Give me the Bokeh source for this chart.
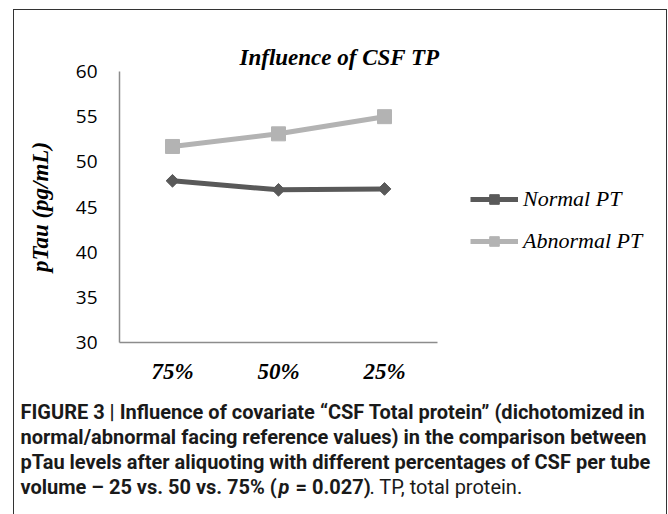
from bokeh.plotting import figure
from bokeh.models import (Range1d, FixedTicker, Label, Legend, LegendItem, ColumnDataSource)
from bokeh.embed import file_html
from bokeh.resources import INLINE
import numpy as np

# ---- data ----
categories = ["75%", "50%", "25%"]
normal_pt = [47.9, 46.9, 47.0]
abnormal_pt = [51.7, 53.1, 55.0]
y_ticks = [30, 35, 40, 45, 50, 55, 60]
title_text = "Influence of CSF TP"
y_label = "pTau (pg/mL)"
series_names = ["Normal PT", "Abnormal PT"]
caption_lines = [
    "FIGURE 3 | Influence of covariate \u201cCSF Total protein\u201d (dichotomized in",
    "normal/abnormal facing reference values) in the comparison between",
    "pTau levels after aliquoting with different percentages of CSF per tube",
]
caption_last = ["volume \u2013 25 vs. 50 vs. 75% (", "p", "= 0.027)", ". TP, total protein."]

SERIF = "Liberation Serif"
CAPFONT = "Roboto"

# category slots: one unit per category, centred at i + 0.5
x_pos = list(np.arange(len(categories)) + 0.5)
n_cat = len(categories)

# layout (pixels, page coordinates of the plot box in the figure)
FIG_L, FIG_T, FIG_W, FIG_H = 14, 10, 652, 504
AX_L, AX_R, AX_T, AX_B = 119, 437, 71, 342
y_lo, y_hi = y_ticks[0], y_ticks[-1]
px_x = (AX_R - AX_L) / n_cat
px_y = (AX_B - AX_T) / (y_hi - y_lo)
x_range = Range1d((FIG_L - AX_L) / px_x, (FIG_L + FIG_W - AX_L) / px_x)
y_range = Range1d(y_lo - (FIG_T + FIG_H - AX_B) / px_y, y_hi + (AX_T - FIG_T) / px_y)

p = figure(width=FIG_W, height=FIG_H, x_range=x_range, y_range=y_range,
           output_backend="svg", toolbar_location=None,
           min_border=0, min_border_left=0, min_border_right=0,
           min_border_top=0, min_border_bottom=0)
p.margin = (FIG_T, 0, 0, FIG_L)
p.styles = {"outline": "1.5px solid #333333"}
p.outline_line_color = None
p.grid.grid_line_color = None

# axes drawn at fixed data locations
p.xaxis.fixed_location = y_lo
p.xaxis.bounds = (0, n_cat)
p.xaxis.ticker = FixedTicker(ticks=x_pos)
p.xaxis.major_label_overrides = {float(xx): c for xx, c in zip(x_pos, categories)}
p.yaxis.fixed_location = 0
p.yaxis.bounds = (y_lo, y_hi)
p.yaxis.ticker = FixedTicker(ticks=y_ticks)
for ax in (p.xaxis[0], p.yaxis[0]):
    ax.axis_line_color = "#8c8c8c"
    ax.axis_line_width = 1.5
    ax.major_tick_line_color = None
    ax.minor_tick_line_color = None
    ax.major_tick_out = 0
    ax.major_tick_in = 0
    ax.minor_tick_out = 0
    ax.major_label_text_color = "black"
p.yaxis.major_label_text_font = "Open Sans"
p.yaxis.major_label_text_font_size = "19px"
p.yaxis.major_label_standoff = 22
p.yaxis.axis_label = y_label
p.yaxis.axis_label_text_font = SERIF
p.yaxis.axis_label_text_font_style = "bold italic"
p.yaxis.axis_label_text_font_size = "23px"
p.yaxis.axis_label_text_color = "black"
p.yaxis.axis_label_standoff = 20
p.xaxis.major_label_text_font = SERIF
p.xaxis.major_label_text_font_style = "bold italic"
p.xaxis.major_label_text_font_size = "23px"
p.xaxis.major_label_standoff = 16

src_n = ColumnDataSource(dict(x=x_pos, y=normal_pt))
src_a = ColumnDataSource(dict(x=x_pos, y=abnormal_pt))
l1 = p.line("x", "y", source=src_n, line_color="#595959", line_width=5)
m1 = p.scatter("x", "y", source=src_n, marker="square", angle=np.pi / 4, size=9,
               fill_color="#595959", line_color="#595959")
l2 = p.line("x", "y", source=src_a, line_color="#b3b3b3", line_width=5)
m2 = p.scatter("x", "y", source=src_a, marker="square", size=14,
               fill_color="#b3b3b3", line_color="#b3b3b3")

# screen helpers: frame = whole figure, y measured up from the bottom
def sx(page_x):
    return page_x - FIG_L

def sy(page_y):
    return FIG_T + FIG_H - page_y

legend = Legend(items=[LegendItem(label=series_names[0], renderers=[l1, m1]),
                       LegendItem(label=series_names[1], renderers=[l2, m2])],
                location=(sx(470), sy(254)), orientation="vertical",
                glyph_width=48, glyph_height=24, label_height=24, spacing=16,
                label_standoff=5, padding=0, margin=0,
                border_line_color=None, background_fill_alpha=0,
                label_text_font=SERIF, label_text_font_style="italic",
                label_text_font_size="22px", label_text_color="black")
p.add_layout(legend)

p.add_layout(Label(x=sx(339), y=sy(57), x_units="screen", y_units="screen", text=title_text,
                   text_font=SERIF, text_font_style="bold italic", text_font_size="23px",
                   text_align="center", text_baseline="middle", text_color="black"))

# caption
cap_y = [411, 436, 461, 486]
for txt, yy in zip(caption_lines, cap_y[:3]):
    p.add_layout(Label(x=sx(20), y=sy(yy), x_units="screen", y_units="screen", text=txt,
                       text_font=CAPFONT, text_font_style="bold", text_font_size="20px",
                       text_baseline="middle", text_color="#1a1a1a"))
xs_last = [20, 278, 295, 369]
styles_last = ["bold", "bold italic", "bold", "normal"]
for txt, xx, st in zip(caption_last, xs_last, styles_last):
    p.add_layout(Label(x=sx(xx), y=sy(cap_y[3]), x_units="screen", y_units="screen", text=txt,
                       text_font=CAPFONT, text_font_style=st, text_font_size="20px",
                       text_baseline="middle", text_color="#1a1a1a"))

open("out.html", "w").write(file_html(p, INLINE))
